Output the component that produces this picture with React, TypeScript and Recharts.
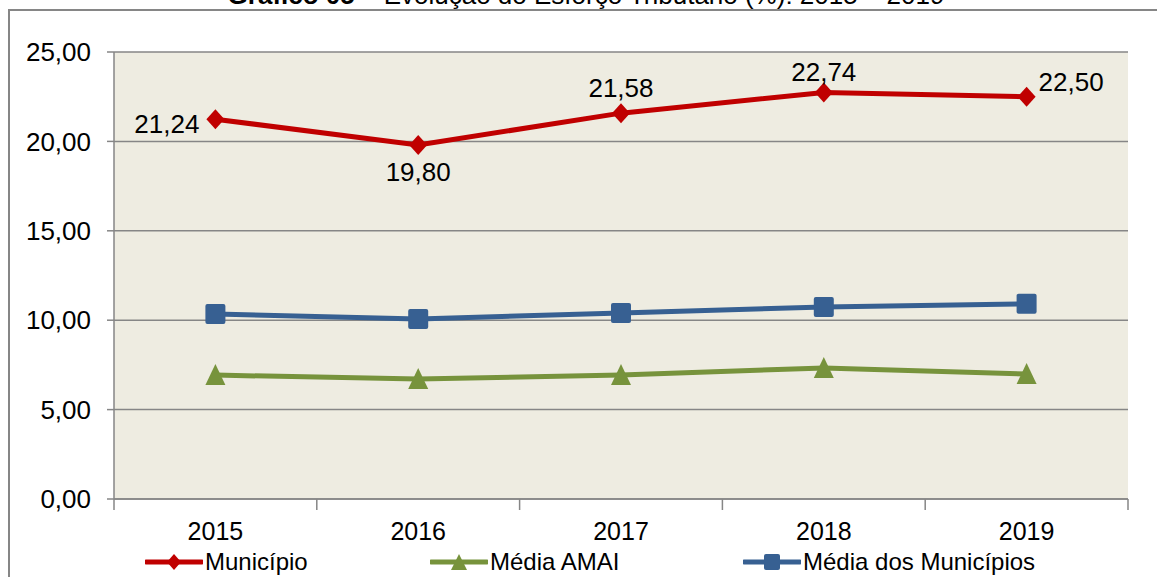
import { LineChart, Line, XAxis, YAxis, CartesianGrid, LabelList } from 'recharts'

const years = ['2015', '2016', '2017', '2018', '2019']
const municipio = [21.24, 19.8, 21.58, 22.74, 22.5]
const mediaAmai = [6.93, 6.71, 6.93, 7.33, 6.99]
const mediaMunicipios = [10.34, 10.07, 10.4, 10.74, 10.92]
const yTicks = [0, 5, 10, 15, 20, 25]

const W = 1157
const H = 577
const MARGIN = { top: 52, right: 29, left: 8, bottom: 38 }
const Y_WIDTH = 106
const BAND = (W - MARGIN.left - Y_WIDTH - MARGIN.right) / years.length

const FONT = '"Liberation Sans", Arial, sans-serif'
const GRID = '#868686'
const RED = '#C00000'
const GREEN = '#77933C'
const BLUE = '#376092'

const data = years.map((y, i) => ({
  x: i + 0.5,
  year: y,
  municipio: municipio[i],
  amai: mediaAmai[i],
  medios: mediaMunicipios[i],
}))

const fmt = (v: number) => v.toFixed(2).replace('.', ',')

const Diamond = ({ cx, cy }: any) => (
  <polygon points={`${cx},${cy - 10} ${cx + 9},${cy} ${cx},${cy + 10} ${cx - 9},${cy}`} fill={RED} />
)
const Square = ({ cx, cy }: any) => (
  <rect x={cx - 10} y={cy - 10} width={20} height={20} rx={2} fill={BLUE} />
)
const Triangle = ({ cx, cy }: any) => (
  <polygon points={`${cx},${cy - 11} ${cx + 10},${cy + 10} ${cx - 10},${cy + 10}`} fill={GREEN} />
)

// where each Município label sits relative to its point
const labelPlace = ['left', 'below', 'above', 'above2', 'right']

const RedLabel = (props: any) => {
  const { x, y, value, index } = props
  const p = labelPlace[index]
  let tx = x, ty = y, anchor: 'start' | 'middle' | 'end' = 'middle'
  if (p === 'left') { tx = x - 16; ty = y + 4; anchor = 'end' }
  if (p === 'below') { ty = y + 27 }
  if (p === 'above') { ty = y - 26 }
  if (p === 'above2') { ty = y - 21 }
  if (p === 'right') { tx = x + 12; ty = y - 15; anchor = 'start' }
  return (
    <text x={tx} y={ty} dy="0.36em" textAnchor={anchor} fontSize={26} fontFamily={FONT} fill="#000">
      {fmt(value)}
    </text>
  )
}

const YearTick = ({ x, y, payload }: any) => {
  const i = payload.value
  if (i >= years.length) return null
  return (
    <text x={x + BAND / 2} y={y + 30} textAnchor="middle" fontSize={25} fontFamily={FONT} fill="#000">
      {years[i]}
    </text>
  )
}

const legendItems = [
  { label: 'Município', color: RED, marker: 'diamond', left: 145 },
  { label: 'Média AMAI', color: GREEN, marker: 'triangle', left: 430 },
  { label: 'Média dos Municípios', color: BLUE, marker: 'square', left: 743 },
]

const LegendIcon = ({ color, marker }: { color: string; marker: string }) => (
  <svg width={58} height={22} style={{ display: 'block' }}>
    <line x1={1} y1={11} x2={57} y2={11} stroke={color} strokeWidth={5} strokeLinecap="round" />
    {marker === 'diamond' && <polygon points="29,3 36,11 29,19 22,11" fill={color} />}
    {marker === 'triangle' && <polygon points="29,3 37,19 21,19" fill={color} />}
    {marker === 'square' && <rect x={21} y={3} width={16} height={16} rx={2} fill={color} />}
  </svg>
)

export default function App() {
  return (
    <div style={{ position: 'absolute', left: 0, top: 0, width: W, height: H, overflow: 'hidden', background: '#fff' }}>
      <div
        style={{
          position: 'absolute', left: 8, top: 9, width: W - 8, height: H - 9,
          borderLeft: `2px solid ${GRID}`, borderTop: `2px solid ${GRID}`, boxSizing: 'border-box',
        }}
      />
      <svg width={W} height={20} style={{ position: 'absolute', left: 0, top: 0 }}>
        <text x={586} y={4} textAnchor="middle" fontSize={26} fontFamily={FONT} fill="#000">
          <tspan fontWeight="bold">Gráfico 05</tspan>
          <tspan> – Evolução do Esforço Tributário (%): 2015 – 2019</tspan>
        </text>
      </svg>
      <div style={{ position: 'absolute', left: 0, top: 0 }}>
        <LineChart width={W} height={H} data={data} margin={MARGIN}>
          <CartesianGrid vertical={false} stroke={GRID} strokeWidth={1.5} fill="#EEECE1" fillOpacity={1} />
          <XAxis
            dataKey="x"
            type="number"
            domain={[0, years.length]}
            ticks={[0, 1, 2, 3, 4, 5]}
            height={40}
            tickSize={11}
            tickMargin={0}
            tickLine={{ stroke: GRID, strokeWidth: 1.5 }}
            axisLine={{ stroke: GRID, strokeWidth: 1.5 }}
            tick={<YearTick />}
            interval={0}
          />
          <YAxis
            domain={[0, 25]}
            ticks={yTicks}
            width={Y_WIDTH}
            tickSize={7}
            tickMargin={16}
            tickFormatter={fmt}
            tickLine={{ stroke: GRID, strokeWidth: 1.5 }}
            axisLine={{ stroke: GRID, strokeWidth: 1.5 }}
            tick={{ fill: '#000', fontSize: 26, fontFamily: FONT }}
            interval={0}
          />
          <Line dataKey="amai" stroke={GREEN} strokeWidth={5} dot={<Triangle />} activeDot={false} isAnimationActive={false} />
          <Line dataKey="medios" stroke={BLUE} strokeWidth={5} dot={<Square />} activeDot={false} isAnimationActive={false} />
          <Line dataKey="municipio" stroke={RED} strokeWidth={5} dot={<Diamond />} activeDot={false} isAnimationActive={false}>
            <LabelList dataKey="municipio" content={<RedLabel />} />
          </Line>
        </LineChart>
      </div>
      {legendItems.map((it) => (
        <div
          key={it.label}
          style={{
            position: 'absolute', left: it.left, top: 550, display: 'flex', alignItems: 'center',
            fontFamily: FONT, fontSize: 24, color: '#000', lineHeight: '24px',
          }}
        >
          <LegendIcon color={it.color} marker={it.marker} />
          <span style={{ marginLeft: 2 }}>{it.label}</span>
        </div>
      ))}
    </div>
  )
}
